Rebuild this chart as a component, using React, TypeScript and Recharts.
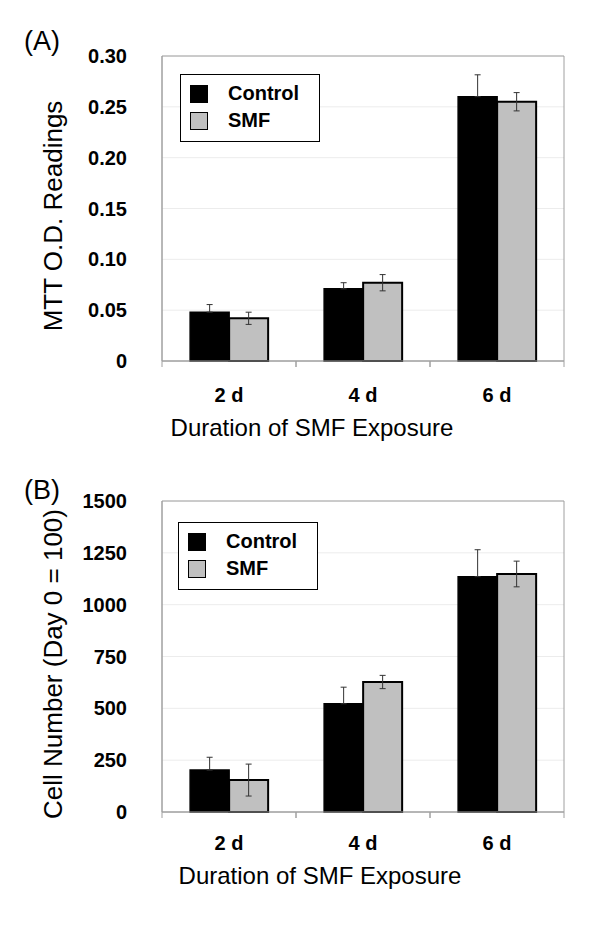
import React from 'react';
import {
  Bar,
  BarChart,
  CartesianGrid,
  ErrorBar,
  Legend,
  ReferenceArea,
  XAxis,
  YAxis,
} from 'recharts';

const days = ['2 d', '4 d', '6 d'];

// (A) MTT O.D. readings
const mttControl = [0.048, 0.071, 0.26];
const mttControlErr = [0.0075, 0.006, 0.0215];
const mttSmf = [0.042, 0.077, 0.255];
const mttSmfErr = [0.006, 0.008, 0.009];
const mttTicks = [0, 0.05, 0.1, 0.15, 0.2, 0.25, 0.3];

// (B) cell number, day 0 = 100
const cellControl = [202, 522, 1135];
const cellControlErr = [62, 80, 130];
const cellSmf = [154, 627, 1148];
const cellSmfErr = [77, 32, 62];
const cellTicks = [0, 250, 500, 750, 1000, 1250, 1500];
const cellMinorTicks = [
  0, 50, 100, 150, 200, 250, 300, 350, 400, 450, 500, 550, 600, 650, 700, 750,
  800, 850, 900, 950, 1000, 1050, 1100, 1150, 1200, 1250, 1300, 1350, 1400, 1450, 1500,
];

const FONT = '"Liberation Sans", Arial, Helvetica, sans-serif';
const BORDER = '#a0a0a0';
const GRID = '#ececec';
const SMF_FILL = '#c0c0c0';

// control error bars only show the upper arm (the lower one is hidden in the black bar)
const mttData = days.map((day, i) => ({
  day,
  control: mttControl[i],
  controlErr: [0, mttControlErr[i]],
  smf: mttSmf[i],
  smfErr: mttSmfErr[i],
}));

const cellData = days.map((day, i) => ({
  day,
  control: cellControl[i],
  controlErr: [0, cellControlErr[i]],
  smf: cellSmf[i],
  smfErr: cellSmfErr[i],
}));

function DayTick(props: any) {
  const { x, y, payload, labelOffset = 40 } = props;
  const half = payload?.offset ?? 67;
  return (
    <g>
      <line x1={x - half} y1={y} x2={x - half} y2={y + 6} stroke={BORDER} />
      <line x1={x + half} y1={y} x2={x + half} y2={y + 6} stroke={BORDER} />
      <text
        x={x}
        y={y + labelOffset}
        textAnchor="middle"
        fontFamily={FONT}
        fontWeight="bold"
        fontSize={20}
        fill="#000"
      >
        {payload.value}
      </text>
    </g>
  );
}

function LegendBox() {
  const row = (fill: string, label: string) => (
    <div style={{ display: 'flex', alignItems: 'center', height: 27 }}>
      <div
        style={{
          width: 16,
          height: 16,
          background: fill,
          border: '1.5px solid #000',
          marginLeft: 9,
          marginRight: 20,
        }}
      />
      <span style={{ fontFamily: FONT, fontWeight: 'bold', fontSize: 20, color: '#000' }}>{label}</span>
    </div>
  );
  return (
    <div
      style={{
        width: 138,
        height: 61,
        border: '1.5px solid #000',
        background: '#fff',
        paddingTop: 5,
        boxSizing: 'content-box',
      }}
    >
      {row('#000', 'Control')}
      {row(SMF_FILL, 'SMF')}
    </div>
  );
}

const overlayText: React.CSSProperties = {
  position: 'absolute',
  fontFamily: FONT,
  color: '#000',
  whiteSpace: 'nowrap',
  lineHeight: 1,
};

export default function App() {
  return (
    <div style={{ position: 'absolute', left: 0, top: 0, width: 600, height: 929, background: '#fff' }}>
      {/* Panel A */}
      <div style={{ position: 'absolute', left: 0, top: 0 }}>
        <BarChart
          width={600}
          height={460}
          data={mttData}
          margin={{ top: 56, right: 36, bottom: 59, left: 102 }}
          barCategoryGap="21%"
          barGap={0}
        >
          <CartesianGrid vertical={false} stroke={GRID} />
          <ReferenceArea y1={0} y2={0.3} fill="none" stroke={BORDER} strokeWidth={1} />
          <XAxis
            dataKey="day"
            height={40}
            axisLine={{ stroke: BORDER }}
            tickLine={false}
            tickSize={0}
            tickMargin={0}
            tick={<DayTick labelOffset={41} />}
          />
          <YAxis
            width={60}
            domain={[0, 0.3]}
            ticks={mttTicks}
            axisLine={{ stroke: BORDER }}
            tickLine={false}
            tickSize={0}
            tickMargin={35}
            tickFormatter={(v: number) => (v === 0 ? '0' : v.toFixed(2))}
            tick={{ fontFamily: FONT, fontWeight: 'bold', fontSize: 20, fill: '#000' }}
          />
          <Legend
            layout="vertical"
            align="center"
            verticalAlign="middle"
            wrapperStyle={{ left: 180, top: 74, width: 141, height: 64 }}
            content={() => <LegendBox />}
          />
          <Bar dataKey="control" fill="#000" stroke="#000" strokeWidth={1.5} isAnimationActive={false}>
            <ErrorBar dataKey="controlErr" width={3} stroke="#333" strokeWidth={1} direction="y" />
          </Bar>
          <Bar dataKey="smf" fill={SMF_FILL} stroke="#000" strokeWidth={2} isAnimationActive={false}>
            <ErrorBar dataKey="smfErr" width={3} stroke="#333" strokeWidth={1} direction="y" />
          </Bar>
        </BarChart>
      </div>

      {/* Panel B */}
      <div style={{ position: 'absolute', left: 0, top: 460 }}>
        <BarChart
          width={600}
          height={469}
          data={cellData}
          margin={{ top: 41, right: 36, bottom: 77, left: 102 }}
          barCategoryGap="21%"
          barGap={0}
        >
          <CartesianGrid vertical={false} stroke={GRID} />
          <ReferenceArea y1={0} y2={1500} fill="none" stroke={BORDER} strokeWidth={1} />
          <XAxis
            dataKey="day"
            height={40}
            axisLine={{ stroke: BORDER }}
            tickLine={false}
            tickSize={0}
            tickMargin={0}
            tick={<DayTick labelOffset={38} />}
          />
          <YAxis
            width={60}
            domain={[0, 1500]}
            ticks={cellTicks}
            axisLine={{ stroke: BORDER }}
            tickLine={false}
            tickSize={0}
            tickMargin={35}
            tick={{ fontFamily: FONT, fontWeight: 'bold', fontSize: 20, fill: '#000' }}
          />
          <YAxis
            yAxisId="minor"
            mirror
            domain={[0, 1500]}
            ticks={cellMinorTicks}
            axisLine={false}
            tick={false}
            tickLine={{ stroke: BORDER }}
            tickSize={3}
          />
          <Legend
            layout="vertical"
            align="center"
            verticalAlign="middle"
            wrapperStyle={{ left: 178, top: 62, width: 141, height: 64 }}
            content={() => <LegendBox />}
          />
          <Bar dataKey="control" fill="#000" stroke="#000" strokeWidth={1.5} isAnimationActive={false}>
            <ErrorBar dataKey="controlErr" width={3} stroke="#333" strokeWidth={1} direction="y" />
          </Bar>
          <Bar dataKey="smf" fill={SMF_FILL} stroke="#000" strokeWidth={2} isAnimationActive={false}>
            <ErrorBar dataKey="smfErr" width={3} stroke="#333" strokeWidth={1} direction="y" />
          </Bar>
        </BarChart>
      </div>

      {/* Panel letters and axis titles */}
      <div style={{ ...overlayText, left: 24, top: 28, fontSize: 27 }}>(A)</div>
      <div style={{ ...overlayText, left: 24, top: 477, fontSize: 27 }}>(B)</div>

      <div
        style={{
          ...overlayText,
          left: 53,
          top: 216,
          fontSize: 26,
          transform: 'translate(-50%, -50%) rotate(-90deg)',
        }}
      >
        MTT O.D. Readings
      </div>
      <div
        style={{
          ...overlayText,
          left: 53,
          top: 664,
          fontSize: 26,
          transform: 'translate(-50%, -50%) rotate(-90deg)',
        }}
      >
        Cell Number (Day 0 = 100)
      </div>

      <div style={{ ...overlayText, left: 312, top: 428, fontSize: 24, transform: 'translate(-50%, -50%)' }}>
        Duration of SMF Exposure
      </div>
      <div style={{ ...overlayText, left: 320, top: 876, fontSize: 24, transform: 'translate(-50%, -50%)' }}>
        Duration of SMF Exposure
      </div>
    </div>
  );
}
